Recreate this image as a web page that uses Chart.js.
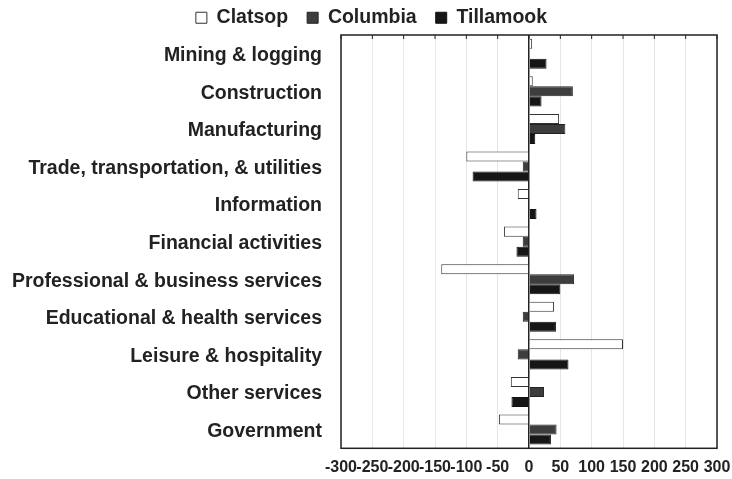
<!DOCTYPE html>
<html>
<head>
<meta charset="utf-8">
<script src="https://cdn.jsdelivr.net/npm/chart.js@4/dist/chart.umd.min.js"></script>
<style>
  html, body { margin: 0; padding: 0; background: #fff; }
  #wrap { width: 732px; height: 479px; }
</style>
</head>
<body>
<div id="wrap"><canvas id="chart1"></canvas></div>
<script>
// industries, top to bottom
const categories = [
    'Mining & logging',
    'Construction',
    'Manufacturing',
    'Trade, transportation, & utilities',
    'Information',
    'Financial activities',
    'Professional & business services',
    'Educational & health services',
    'Leisure & hospitality',
    'Other services',
    'Government'
];

const clatsop   = [5, 6, 48, -100, -18, -40, -140, 40, 150, -29, -48];
const columbia  = [0, 70, 58, -10, 0, -10, 72, -10, -18, 24, 44];
const tillamook = [28, 20, 10, -90, 12, -20, 50, 43, 63, -28, 35];

const xTicks = [-300, -250, -200, -150, -100, -50, 0, 50, 100, 150, 200, 250, 300];

const FONT = 'Liberation Sans, Arial, sans-serif';

// frame around the plot, top tick marks, and legend placement
const framePlugin = {
    id: 'frame',
    afterInit(chart) {
        const lg = chart.legend;
        const origFit = lg.fit;
        lg.fit = function() {
            origFit.call(this);
            this.height = 35;
        };
    },
    afterLayout(chart) {
        chart.legend.top = -11;
        chart.legend.left += 9;
        chart.legend.right += 9;
    },
    afterDatasetsDraw(chart) {
        const a = chart.chartArea;
        const ctx = chart.ctx;
        ctx.save();
        ctx.strokeStyle = '#222';
        ctx.lineWidth = 1.5;
        ctx.strokeRect(a.left, a.top, a.right - a.left, a.bottom - a.top);
        const xs = chart.scales.x;
        ctx.lineWidth = 1;
        xTicks.forEach(function(t) {
            const px = xs.getPixelForValue(t);
            ctx.beginPath();
            ctx.moveTo(px, a.top);
            ctx.lineTo(px, a.top + 4);
            ctx.stroke();
        });
        ctx.restore();
    }
};

const data = {
    labels: categories,
    datasets: [
        {
            label: 'Clatsop',
            data: clatsop,
            backgroundColor: '#ffffff',
            borderColor: '#333333',
            borderWidth: 1
        },
        {
            label: 'Columbia',
            data: columbia,
            backgroundColor: '#3d3d3d',
            borderColor: '#222222',
            borderWidth: 1
        },
        {
            label: 'Tillamook',
            data: tillamook,
            backgroundColor: '#161616',
            borderColor: '#111111',
            borderWidth: 1
        }
    ]
};

const options = {
    indexAxis: 'y',
    responsive: true,
    maintainAspectRatio: false,
    animation: false,
    layout: {
        padding: { left: 8, right: 15, top: 0, bottom: 3 }
    },
    datasets: {
        bar: { categoryPercentage: 0.8, barPercentage: 1.0 }
    },
    plugins: {
        legend: {
            position: 'top',
            labels: {
                boxWidth: 11,
                boxHeight: 11,
                padding: 19,
                color: '#222',
                font: { family: FONT, size: 19.5, weight: 'bold' }
            }
        },
        tooltip: { enabled: false }
    },
    scales: {
        x: {
            min: -300,
            max: 300,
            afterBuildTicks(scale) {
                scale.ticks = xTicks.map(function(v) { return { value: v }; });
            },
            afterFit(scale) {
                scale.height = 25;
                scale.paddingLeft = 0;
                scale.paddingRight = 0;
            },
            ticks: {
                autoSkip: false,
                maxRotation: 0,
                padding: 10,
                color: '#222',
                font: { family: FONT, size: 16, weight: 'bold' }
            },
            grid: {
                drawTicks: false,
                color: function(c) { return c.tick && c.tick.value === 0 ? '#222' : '#e6e6e6'; },
                lineWidth: function(c) { return c.tick && c.tick.value === 0 ? 1.5 : 1; }
            },
            border: { display: false }
        },
        y: {
            afterFit(scale) { scale.width = 333; },
            ticks: {
                padding: 19,
                labelOffset: 2,
                color: '#222',
                font: { family: FONT, size: 19.5, weight: 'bold' }
            },
            grid: { display: false, drawTicks: false },
            border: { display: false }
        }
    }
};

const ctx = document.getElementById('chart1').getContext('2d');
const myChart = new Chart(ctx, {
    type: 'bar',
    data: data,
    options: options,
    plugins: [framePlugin]
});
</script>
</body>
</html>
